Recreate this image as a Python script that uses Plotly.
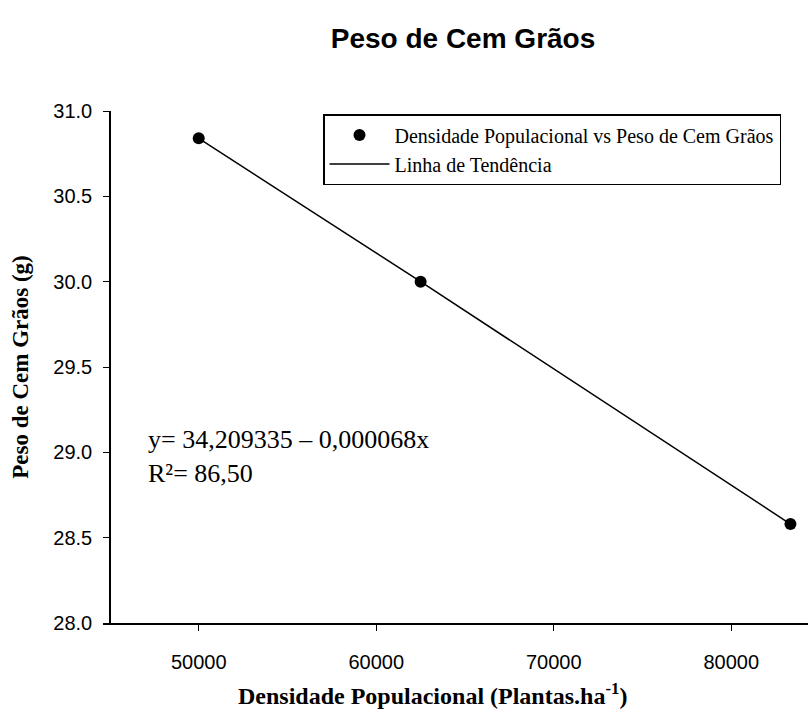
import plotly.graph_objects as go

# Plant population (plants per hectare) and hundred-grain weight (g)
densidade = [50000, 62500, 83333]
peso = [30.84, 30.00, 28.58]

# Trend line values drawn through the observed points
tendencia_x = [50000, 62500, 83333]
tendencia_y = [30.84, 30.00, 28.58]

y_ticks = [28.0, 28.5, 29.0, 29.5, 30.0, 30.5, 31.0]
x_ticks = [50000, 60000, 70000, 80000]

W, H = 808, 711
L, R, T, B = 103, 0, 111, 88
plot_w = W - L - R
plot_h = 622 - T


def px_x(p):
    return (p - L) / plot_w


def px_y(p):
    return (622 - p) / plot_h


fig = go.Figure()
fig.add_trace(go.Scatter(
    x=densidade, y=peso, mode="markers",
    marker=dict(color="black", size=12),
    name="Densidade Populacional vs Peso de Cem Grãos",
))
fig.add_trace(go.Scatter(
    x=tendencia_x, y=tendencia_y, mode="lines",
    line=dict(color="black", width=1.5),
    name="Linha de Tendência",
))

# Regression equation and coefficient of determination
fig.add_annotation(
    xref="paper", yref="paper", x=px_x(146), y=px_y(456),
    xanchor="left", yanchor="middle", showarrow=False, align="left",
    text="y= 34,209335 – 0,000068x<br>R²= 86,50",
    font=dict(family="Liberation Serif", size=26, color="black"),
)

# x-axis title, placed as a free annotation
fig.add_annotation(
    xref="paper", yref="paper", x=px_x(432), y=px_y(710),
    xanchor="center", yanchor="bottom", showarrow=False,
    text="<b>Densidade Populacional (Plantas.ha<sup>-1</sup>)</b>",
    font=dict(family="Liberation Serif", size=24, color="black"),
)

fig.update_layout(
    width=W, height=H,
    margin=dict(l=L, r=R, t=T, b=B),
    paper_bgcolor="white", plot_bgcolor="white",
    title=dict(
        text="<b>Peso de Cem Grãos</b>", x=463 / W, xanchor="center",
        y=1 - 38 / H, yanchor="middle",
        font=dict(family="Liberation Sans", size=28, color="black"),
    ),
    showlegend=True,
    legend=dict(
        x=px_x(323), y=px_y(114),
        xanchor="left", yanchor="top",
        bordercolor="black", borderwidth=1.5, bgcolor="white",
        font=dict(family="Liberation Serif", size=20, color="black"),
        tracegroupgap=0, itemwidth=60,
    ),
    xaxis=dict(
        range=[44608, 84321], tickvals=x_ticks, ticktext=[str(v) for v in x_ticks],
        showline=True, linecolor="black", linewidth=1.5,
        ticks="outside", ticklen=6, tickwidth=1.2, tickcolor="black",
        showgrid=False, zeroline=False, ticklabelstandoff=14,
        tickfont=dict(family="Liberation Sans", size=20, color="black"),
    ),
    yaxis=dict(
        range=[28, 31], tickvals=y_ticks, ticktext=[f"{v:.1f}" for v in y_ticks],
        anchor="free", position=px_x(110),
        showline=True, linecolor="black", linewidth=1.5,
        ticks="outside", ticklen=6, tickwidth=1.2, tickcolor="black",
        showgrid=False, zeroline=False, ticklabelstandoff=7,
        tickfont=dict(family="Liberation Sans", size=20, color="black"),
        title=dict(
            text="<b>Peso de Cem Grãos (g)</b>",
            font=dict(family="Liberation Serif", size=23, color="black"),
            standoff=17,
        ),
    ),
)

fig.write_html("out.html")
